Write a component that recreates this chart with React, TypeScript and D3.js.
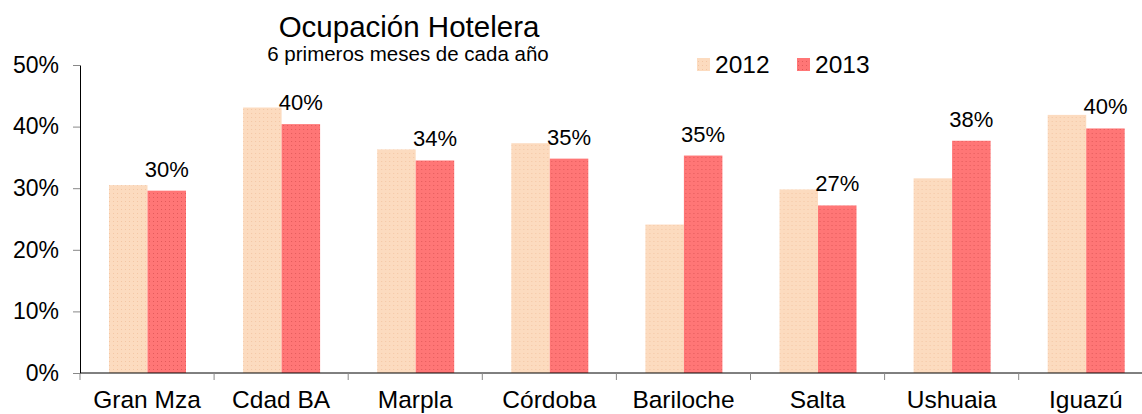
import React, { useRef, useEffect } from 'react';
import * as d3 from 'd3';

const categories = ['Gran Mza', 'Cdad BA', 'Marpla', 'Córdoba', 'Bariloche', 'Salta', 'Ushuaia', 'Iguazú'];
const seriesNames = ['2012', '2013'];
const values2012 = [30.5, 43.1, 36.3, 37.3, 24.1, 29.8, 31.6, 41.9];
const values2013 = [29.6, 40.4, 34.5, 34.8, 35.3, 27.2, 37.7, 39.7];
const valueLabels = ['30%', '40%', '34%', '35%', '35%', '27%', '38%', '40%'];
const yTicks = [0, 10, 20, 30, 40, 50];

const colors = { '2012': '#fcdbbf', '2013': '#ff7676' };
const dotColors = { '2012': '#f3c6a4', '2013': '#e25a5a' };

export default function App() {
    const svgRef = useRef<SVGSVGElement>(null);
    const width = 1142;
    const height = 414;
    const margin = { top: 65, left: 80, bottom: 41 };
    const bandW = 134.1;

    useEffect(() => {
        const svg = d3.select(svgRef.current);
        svg.selectAll('*').remove();
        const font = 'Liberation Sans, Arial, sans-serif';

        // patterns for the bar fills
        const defs = svg.append('defs');
        seriesNames.forEach(s => {
            const p = defs.append('pattern')
                .attr('id', `pat${s}`)
                .attr('patternUnits', 'userSpaceOnUse')
                .attr('width', 4)
                .attr('height', 4);
            p.append('rect').attr('width', 4).attr('height', 4).attr('fill', colors[s]);
            p.append('rect').attr('x', 1).attr('y', 1).attr('width', 1).attr('height', 1).attr('fill', dotColors[s]);
        });

        const x0 = d3.scaleBand<string>()
            .domain(categories)
            .range([margin.left, margin.left + bandW * categories.length])
            .padding(0);

        const x1 = d3.scaleBand<string>()
            .domain(seriesNames)
            .range([29, 106])
            .padding(0);

        const y = d3.scaleLinear()
            .domain([0, 50])
            .range([height - margin.bottom, margin.top]);

        const rows = categories.map((c, i) => ({ cat: c, '2012': values2012[i], '2013': values2013[i], label: valueLabels[i] }));

        // bars
        const groups = svg.append('g')
            .selectAll('g')
            .data(rows)
            .join('g')
            .attr('transform', d => `translate(${x0(d.cat)},0)`);

        groups.selectAll('rect')
            .data(d => seriesNames.map(s => ({ s, v: d[s] as number })))
            .join('rect')
            .attr('x', d => x1(d.s)!)
            .attr('y', d => y(d.v))
            .attr('width', x1.bandwidth())
            .attr('height', d => y(0) - y(d.v))
            .attr('fill', d => `url(#pat${d.s})`);

        // value labels above 2013 bars
        groups.append('text')
            .attr('x', x1('2013')! + x1.bandwidth() / 2)
            .attr('y', d => y(d['2013']) - 14)
            .attr('text-anchor', 'middle')
            .attr('font-size', 22)
            .attr('font-family', font)
            .attr('fill', '#000')
            .text(d => d.label);

        // y axis
        svg.append('g')
            .attr('transform', `translate(${margin.left},0)`)
            .call(d3.axisLeft(y).tickValues(yTicks).tickFormat(d => `${d}%`).tickSize(7).tickSizeOuter(0).tickPadding(14))
            .call(g => g.select('.domain').attr('stroke', '#000'))
            .call(g => g.selectAll('.tick line').attr('stroke', '#888'))
            .call(g => g.selectAll('.tick text').attr('font-size', 23).attr('font-family', font).attr('fill', '#000'));

        // x axis
        const xAxis = svg.append('g').attr('transform', `translate(0,${y(0)})`);
        xAxis.append('line')
            .attr('x1', margin.left)
            .attr('x2', width)
            .attr('stroke', '#000');
        xAxis.selectAll('line.tick')
            .data(categories)
            .join('line')
            .attr('class', 'tick')
            .attr('x1', d => x0(d)!)
            .attr('x2', d => x0(d)!)
            .attr('y1', 0)
            .attr('y2', 7)
            .attr('stroke', '#888');
        xAxis.selectAll('text')
            .data(categories)
            .join('text')
            .attr('x', d => x0(d)! + bandW / 2)
            .attr('y', 35)
            .attr('text-anchor', 'middle')
            .attr('font-size', 24.5)
            .attr('font-family', font)
            .attr('fill', '#000')
            .text(d => d);

        // title
        svg.append('text')
            .attr('x', 409)
            .attr('y', 37)
            .attr('text-anchor', 'middle')
            .attr('font-size', 29.5)
            .attr('font-family', font)
            .text('Ocupación Hotelera');
        svg.append('text')
            .attr('x', 408)
            .attr('y', 61)
            .attr('text-anchor', 'middle')
            .attr('font-size', 20.5)
            .attr('font-family', font)
            .text('6 primeros meses de cada año');

        // legend
        const legend = svg.append('g').attr('transform', 'translate(697,0)');
        const legendX = d3.scalePoint<string>().domain(seriesNames).range([0, 100]);
        seriesNames.forEach(s => {
            legend.append('rect')
                .attr('x', legendX(s)!)
                .attr('y', 58)
                .attr('width', 13)
                .attr('height', 13)
                .attr('fill', `url(#pat${s})`);
            legend.append('text')
                .attr('x', legendX(s)! + 18)
                .attr('y', 73)
                .attr('font-size', 24.5)
                .attr('font-family', font)
                .text(s);
        });
    }, []);

    return <svg ref={svgRef} width={width} height={height} style={{ position: 'absolute', left: 0, top: 0, background: '#fff' }} />;
}
